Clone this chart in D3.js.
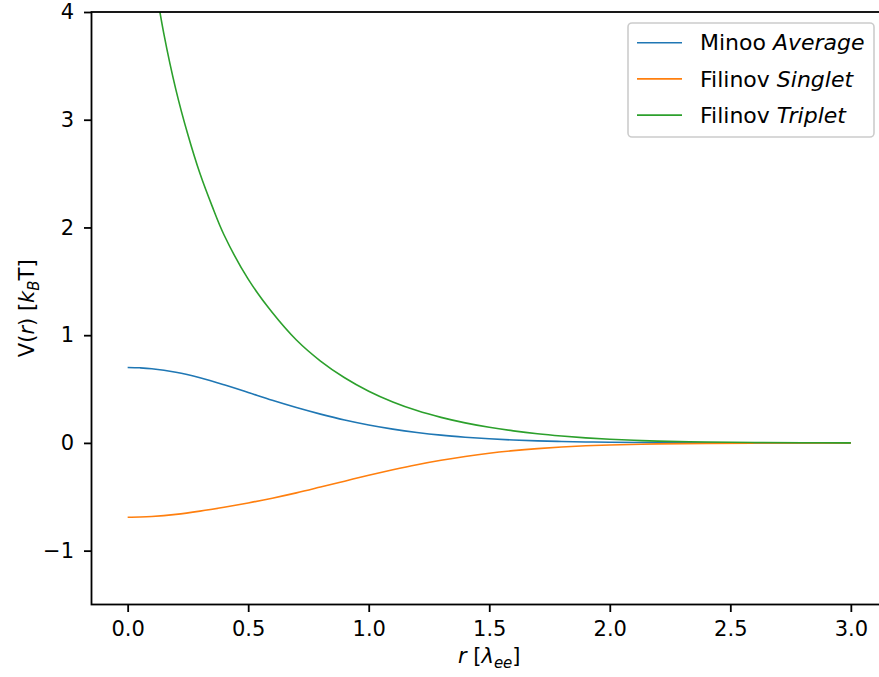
<!DOCTYPE html>
<html>
<head>
<meta charset="utf-8">
<script src="https://cdn.jsdelivr.net/npm/d3@7"></script>
<style>
  html, body { margin: 0; padding: 0; background: #fff; }
  svg { display: block; font-family: "DejaVu Sans", sans-serif; }
</style>
</head>
<body>
<svg id="chart" width="879" height="677"></svg>
<script>
// radius grid (in lambda_ee)
const rAverage = [0, 0.05, 0.1, 0.2, 0.3, 0.4, 0.5, 0.6, 0.7, 0.8, 0.9, 1.0, 1.1, 1.2, 1.3, 1.4, 1.5, 1.6, 1.7, 1.8, 1.9, 2.0, 2.2, 2.4, 2.6, 2.8, 3.0];
const vAverage = [0.70, 0.697, 0.689, 0.656, 0.605, 0.54, 0.468, 0.395, 0.328, 0.267, 0.212, 0.166, 0.128, 0.097, 0.072, 0.053, 0.038, 0.027, 0.019, 0.013, 0.009, 0.006, 0.003, 0.0012, 0.0005, 0.0002, 0];

const rSinglet = [0, 0.05, 0.1, 0.2, 0.3, 0.4, 0.5, 0.6, 0.7, 0.8, 0.9, 1.0, 1.1, 1.2, 1.3, 1.4, 1.5, 1.6, 1.7, 1.8, 1.9, 2.0, 2.2, 2.4, 2.6, 2.8, 3.0];
const vSinglet = [-0.69, -0.688, -0.683, -0.663, -0.633, -0.597, -0.557, -0.513, -0.464, -0.41, -0.355, -0.30, -0.249, -0.202, -0.161, -0.126, -0.096, -0.072, -0.053, -0.038, -0.027, -0.019, -0.009, -0.004, -0.0015, -0.0005, 0];

const rTriplet = [0.1, 0.15, 0.2, 0.25, 0.3, 0.35, 0.4, 0.5, 0.6, 0.7, 0.8, 0.9, 1.0, 1.1, 1.2, 1.3, 1.4, 1.5, 1.6, 1.7, 1.8, 1.9, 2.0, 2.1, 2.2, 2.4, 2.6, 2.8, 3.0];
const vTriplet = [4.45, 3.80, 3.28, 2.86, 2.50, 2.20, 1.93, 1.52, 1.21, 0.955, 0.76, 0.605, 0.48, 0.38, 0.30, 0.237, 0.186, 0.145, 0.112, 0.085, 0.064, 0.047, 0.034, 0.024, 0.017, 0.008, 0.0035, 0.0015, 0.0005];

const xTicks = [0, 0.5, 1.0, 1.5, 2.0, 2.5, 3.0];
const yTicks = [-1, 0, 1, 2, 3, 4];

const seriesNames = ["Minoo", "Filinov", "Filinov"];
const seriesStyles = ["Average", "Singlet", "Triplet"];
const seriesColours = ["#1f77b4", "#ff7f0e", "#2ca02c"];

const series = [
    { r: rAverage, v: vAverage },
    { r: rSinglet, v: vSinglet },
    { r: rTriplet, v: vTriplet },
];

const svg = d3.select("#chart");

const margin = { top: 12, left: 91.5, bottom: 604.5, right: 887 };

const x = d3.scaleLinear()
    .domain([-0.15, 3.15])
    .range([margin.left, margin.right]);
const y = d3.scaleLinear()
    .domain([-1.5, 4])
    .range([margin.bottom, margin.top]);

svg.append("clipPath")
    .attr("id", "clip")
    .append("rect")
    .attr("x", margin.left)
    .attr("y", margin.top)
    .attr("width", margin.right - margin.left)
    .attr("height", margin.bottom - margin.top);

const line = d3.line()
    .x(d => x(d[0]))
    .y(d => y(d[1]))
    .curve(d3.curveCatmullRom.alpha(0.5));

svg.append("g")
    .attr("clip-path", "url(#clip)")
    .selectAll("path")
    .data(series)
    .enter()
    .append("path")
    .attr("d", s => line(s.r.map((r, i) => [r, s.v[i]])))
    .attr("fill", "none")
    .attr("stroke", (s, i) => seriesColours[i])
    .attr("stroke-width", 1.6);

// axes
const xAxis = svg.append("g")
    .attr("transform", "translate(0," + margin.bottom + ")")
    .call(d3.axisBottom(x)
        .tickValues(xTicks)
        .tickFormat(d3.format(".1f"))
        .tickSize(7.5)
        .tickPadding(9.5)
        .tickSizeOuter(0));

const yAxis = svg.append("g")
    .attr("transform", "translate(" + margin.left + ",0)")
    .call(d3.axisLeft(y)
        .tickValues(yTicks)
        .tickFormat(d3.format("d"))
        .tickSize(7.5)
        .tickPadding(10)
        .tickSizeOuter(0));

[xAxis, yAxis].forEach(a => {
    a.select(".domain").remove();
    a.selectAll(".tick line").attr("stroke", "#000").attr("stroke-width", 1.8);
    a.selectAll(".tick text")
        .attr("fill", "#000")
        .style("font-size", "21px")
        .style("font-family", "DejaVu Sans");
});

// spines
svg.append("rect")
    .attr("x", margin.left)
    .attr("y", margin.top)
    .attr("width", margin.right - margin.left)
    .attr("height", margin.bottom - margin.top)
    .attr("fill", "none")
    .attr("stroke", "#000")
    .attr("stroke-width", 1.8);

// axis labels
const xLabel = svg.append("text")
    .attr("x", (margin.left + margin.right) / 2)
    .attr("y", 663)
    .attr("text-anchor", "middle")
    .style("font-size", "21px");
xLabel.append("tspan").attr("font-style", "italic").text("r");
xLabel.append("tspan").text(" [");
xLabel.append("tspan").attr("font-style", "italic").text("λ");
xLabel.append("tspan").attr("font-style", "italic").attr("dy", 5).style("font-size", "15px").text("ee");
xLabel.append("tspan").attr("dy", -5).text("]");

const yLabel = svg.append("text")
    .attr("transform", "translate(34," + (margin.top + margin.bottom) / 2 + ") rotate(-90)")
    .attr("text-anchor", "middle")
    .style("font-size", "21px");
yLabel.append("tspan").text("V(");
yLabel.append("tspan").attr("font-style", "italic").text("r");
yLabel.append("tspan").text(") [");
yLabel.append("tspan").attr("font-style", "italic").text("k");
yLabel.append("tspan").attr("font-style", "italic").attr("dy", 5).style("font-size", "15px").text("B");
yLabel.append("tspan").attr("dy", -5).text("T]");

// legend
const legend = svg.append("g");
legend.append("rect")
    .attr("x", 628)
    .attr("y", 23)
    .attr("width", 246)
    .attr("height", 114)
    .attr("rx", 4)
    .attr("fill", "#fff")
    .attr("fill-opacity", 0.8)
    .attr("stroke", "#ccc")
    .attr("stroke-width", 1.6);

const rows = legend.selectAll("g.row")
    .data(seriesNames)
    .enter()
    .append("g")
    .attr("class", "row")
    .attr("transform", (d, i) => "translate(0," + (42.7 + i * 36.2) + ")");

rows.append("line")
    .attr("x1", 637)
    .attr("x2", 682)
    .attr("stroke", (d, i) => seriesColours[i])
    .attr("stroke-width", 1.6);

const rowText = rows.append("text")
    .attr("x", 700)
    .attr("dy", "0.35em")
    .style("font-size", "22px");
rowText.append("tspan").text(d => d + " ");
rowText.append("tspan").attr("font-style", "italic").text((d, i) => seriesStyles[i]);
</script>
</body>
</html>
